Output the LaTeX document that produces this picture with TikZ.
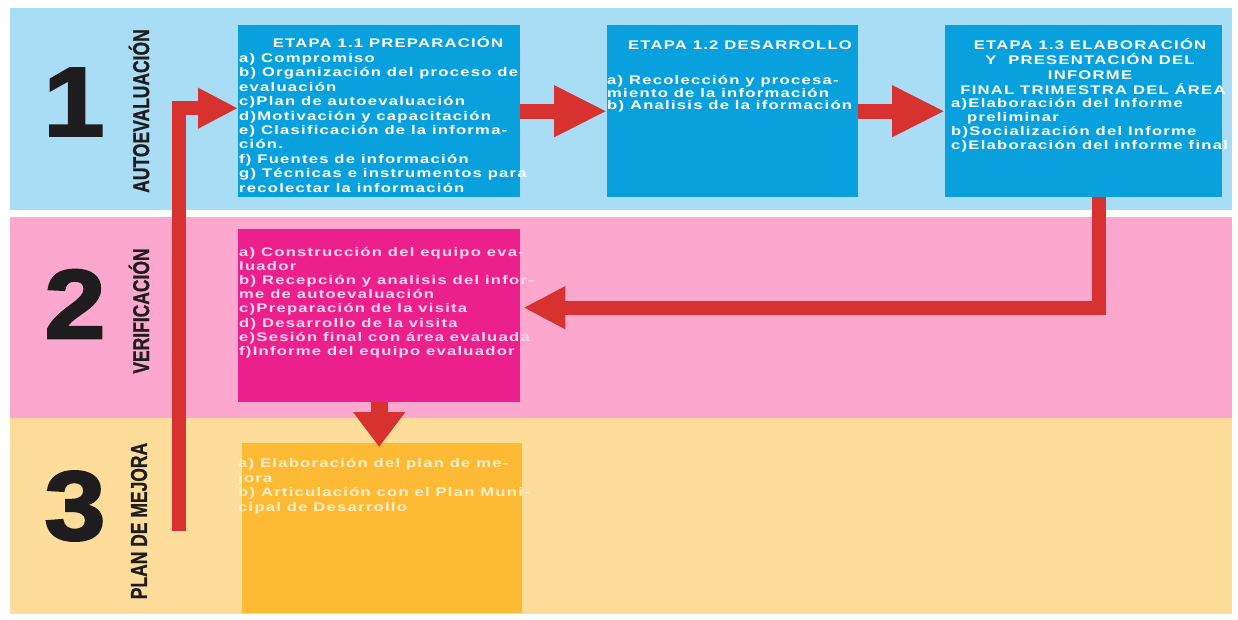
\documentclass[tikz,border=0pt]{standalone}
\usepackage{fontspec}
\usepackage{graphicx}
\setmainfont{Liberation Sans}
\newfontfamily\boxfont{Liberation Sans}[FakeStretch=1.33,LetterSpace=10]
\newfontfamily\numfont{Liberation Sans}[BoldFeatures={FakeStretch=1.12,FakeBold=2.5}]
\newfontfamily\sidefont{Liberation Sans}[BoldFeatures={FakeBold=1}]
\usetikzlibrary{arrows.meta,calc}
\definecolor{bandblue}{RGB}{169,221,245}
\definecolor{boxblue}{RGB}{8,161,221}
\definecolor{bandpink}{RGB}{252,168,206}
\definecolor{boxpink}{RGB}{236,32,140}
\definecolor{bandtan}{RGB}{253,221,153}
\definecolor{boxorange}{RGB}{253,186,52}
\definecolor{arrowred}{RGB}{215,50,48}
\definecolor{pinktext}{RGB}{255,215,235}
\definecolor{orangetext}{RGB}{255,240,205}
\definecolor{labelblack}{RGB}{30,28,30}
\tikzset{
  band/.style={fill=#1,draw=none,inner sep=0,anchor=north west},
  box/.style={fill=#1,draw=none,inner sep=0,anchor=north west},
  bodytext/.style={inner sep=0,anchor=base west,text=#1,
    font=\boxfont\bfseries\fontsize{12.5}{14.4}\selectfont},
  titletext/.style={inner sep=0,anchor=base,text=white,
    font=\boxfont\bfseries\fontsize{12.5}{14.3}\selectfont},
  bignum/.style={inner sep=0,text=labelblack,font=\numfont\bfseries\fontsize{98}{98}\selectfont},
  sidelabel/.style={inner sep=0,rotate=90,text=labelblack,font=\sidefont\bfseries\fontsize{23}{23}\selectfont},
  redline/.style={draw=arrowred,line width=#1,miter limit=10},
}
\begin{document}
\begin{tikzpicture}[x=1pt,y=-1pt]
\useasboundingbox (0,0) rectangle (1238,619);
% bands
\node[band=bandblue,minimum width=1222,minimum height=202] (bandA) at (10,8) {};
\node[band=bandpink,minimum width=1222,minimum height=201] (bandB) at (10,217) {};
\node[band=bandtan,minimum width=1222,minimum height=196] (bandC) at (10,418) {};
% boxes
\node[box=boxblue,minimum width=282,minimum height=172] (b11) at (238,25) {};
\node[box=boxblue,minimum width=251,minimum height=172] (b12) at (607,25) {};
\node[box=boxblue,minimum width=277,minimum height=172] (b13) at (945,25) {};
\node[box=boxpink,minimum width=282,minimum height=173] (b2) at (238,229) {};
\node[box=boxorange,minimum width=280,minimum height=170] (b3) at (242,443) {};
% numbers and side labels
\node[bignum] (n1) at (74,102) {1};
\node[bignum] (n2) at (75,304) {2};
\node[bignum] (n3) at (75,506) {3};
\node[sidelabel] (l1) at (139,111) {\scalebox{0.76}[1]{AUTOEVALUACIÓN}};
\node[sidelabel] (l2) at (139,311) {\scalebox{0.76}[1]{VERIFICACIÓN}};
\node[sidelabel] (l3) at (139,521) {\scalebox{0.76}[1]{PLAN DE MEJORA}};
% texts box 1.1
\node[titletext] (t11) at (388,47.5) {ETAPA 1.1 PREPARACIÓN};
\node[bodytext=white] (x11) at (239,62.5) {\begin{tabular}[t]{@{}l@{}}
a) Compromiso\\
b) Organización del proceso de\\
evaluación\\
c)Plan de autoevaluación\\
d)Motivación y capacitación\\
e) Clasificación de la informa-\\
ción.\\
f) Fuentes de información\\
g) Técnicas e instrumentos para\\
recolectar la información
\end{tabular}};
% box 1.2
\node[titletext] (t12) at (740,49.5) {ETAPA 1.2 DESARROLLO};
\node[bodytext=white,font=\boxfont\bfseries\fontsize{12.5}{11.8}\selectfont] (x12) at (607,84.5) {\begin{tabular}[t]{@{}l@{}}
a) Recolección y procesa-\\
miento de la información\\
b) Analisis de la iformación
\end{tabular}};
% box 1.3
\node[titletext] (t13) at (1090,49.5) {\begin{tabular}[t]{@{}c@{}}
ETAPA 1.3 ELABORACIÓN\\
Y\ \ PRESENTACIÓN DEL\\
INFORME\\
\ FINAL TRIMESTRA DEL ÁREA
\end{tabular}};
\node[bodytext=white,font=\boxfont\bfseries\fontsize{12.5}{14}\selectfont] (x13) at (951,107.5) {\begin{tabular}[t]{@{}l@{}}
a)Elaboración del Informe\\
\hspace*{16pt}preliminar\\
b)Socialización del Informe\\
c)Elaboración del informe final
\end{tabular}};
% pink box
\node[bodytext=pinktext,font=\boxfont\bfseries\fontsize{12.5}{14.1}\selectfont] (x2) at (239,256.5) {\begin{tabular}[t]{@{}l@{}}
a) Construcción del equipo eva-\\
luador\\
b) Recepción y analisis del infor-\\
me de autoevaluación\\
c)Preparación de la visita\\
d) Desarrollo de la visita\\
e)Sesión final con área evaluada\\
f)Informe del equipo evaluador
\end{tabular}};
% orange box
\node[bodytext=orangetext,font=\boxfont\bfseries\fontsize{12.5}{14.7}\selectfont] (x3) at (238,467.5) {\begin{tabular}[t]{@{}l@{}}
a) Elaboración del plan de me-\\
jora\\
b) Articulación con el Plan Muni-\\
cipal de Desarrollo
\end{tabular}};
% arrows
\draw[redline=15,-{Triangle[length=53pt,width=48pt]}] (b11.east) -- (b12.west);
\draw[redline=15,-{Triangle[length=53pt,width=48pt]}] (b12.east) -- (b13.west);
\draw[redline=14,-{Triangle[length=42pt,width=40pt]}] ($(b13.south)+(15,0)$) |- ($(b2.east)+(3,-8)$);
\draw[redline=17,-{Triangle[length=35pt,width=50pt]},shorten >=-4pt] (b2.south) -- (b2.south |- b3.north);
\coordinate (loopstart) at (178.5,531);
\draw[redline=14,-{Triangle[length=40pt,width=38pt]}] (loopstart) |- ($(b11.west)+(0,-3)$);
\end{tikzpicture}
\end{document}
